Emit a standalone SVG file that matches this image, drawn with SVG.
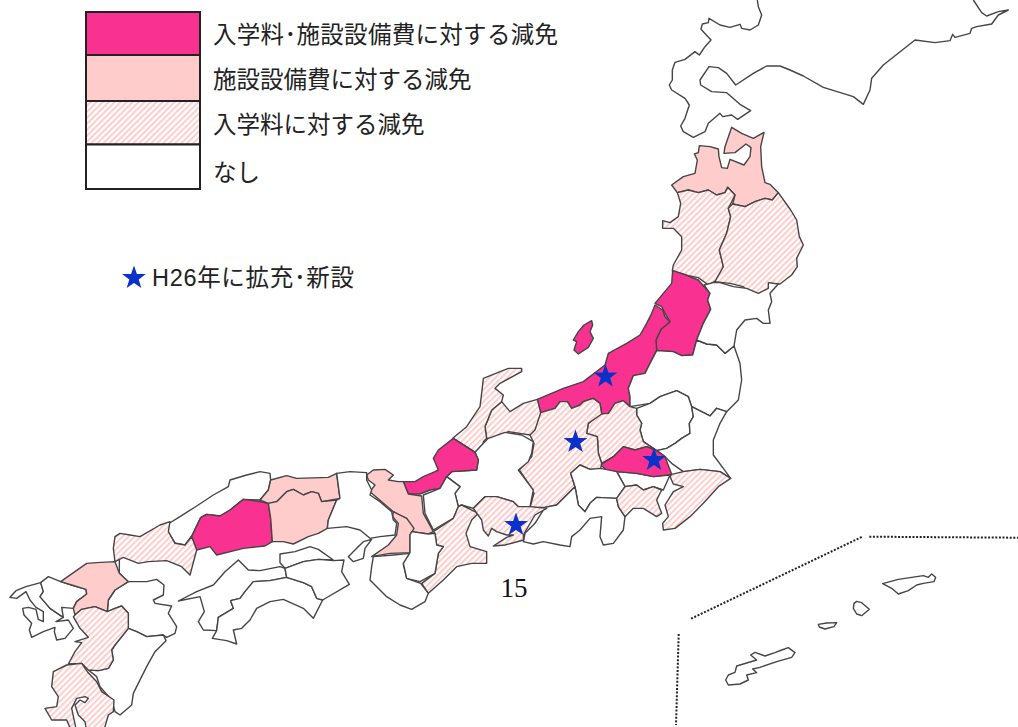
<svg xmlns="http://www.w3.org/2000/svg" width="1018" height="727" viewBox="0 0 1018 727">
<style>
.map path{stroke:#454545;stroke-width:1.4;stroke-linejoin:round;vector-effect:non-scaling-stroke}
.a{fill:#f93191}.b{fill:#ffcccc}.c{fill:url(#h)}.n{fill:#fff}
.lg{stroke:#222;stroke-width:2}
.t{font-family:"Liberation Sans","Noto Sans CJK JP",sans-serif;font-size:23.5px;fill:#222}
.star{fill:#0b32c8}
.dot{fill:none;stroke:#222;stroke-width:2;stroke-dasharray:2 1.6}
</style>
<defs>
<filter id="soft" x="0" y="0" width="1" height="1" filterUnits="objectBoundingBox"><feGaussianBlur stdDeviation=".45"/></filter>
<pattern id="h" width="12.7" height="12.7" patternUnits="userSpaceOnUse" patternTransform="rotate(45)"><rect width="12.7" height="12.7" fill="#fff"/><rect width="6" height="12.7" fill="#ffcccc"/></pattern>
<pattern id="hl" width="4.23" height="4.23" patternUnits="userSpaceOnUse" patternTransform="rotate(45)"><rect width="4.23" height="4.23" fill="#fff"/><rect width="2" height="4.23" fill="#ffcccc"/></pattern>
<path id="s" d="M0-12.5 2.9-3.9 11.9-3.9 4.7 1.5 7.3 10.1 0 5 -7.3 10.1 -4.7 1.5 -11.9-3.9 -2.9-3.9Z"/>
</defs>
<rect width="1018" height="727" fill="#fff"/>
<g id="legend">
<rect class="lg" x="86" y="12" width="114" height="43" fill="#f93191"/>
<rect class="lg" x="86" y="55" width="114" height="46" fill="#ffcccc"/>
<rect class="lg" x="86" y="101" width="114" height="43.5" fill="url(#hl)"/>
<rect class="lg" x="86" y="144.5" width="114" height="44.5" fill="#fff"/>
<text class="t" x="213" y="43" textLength="345">入学料･施設設備費に対する減免</text>
<text class="t" x="213" y="88">施設設備費に対する減免</text>
<text class="t" x="213" y="132.500">入学料に対する減免</text>
<text class="t" x="213" y="181">なし</text>
<use href="#s" class="star" x="134" y="278"/>
<text class="t" x="152" y="286" textLength="202">H26年に拡充･新設</text>
</g>
<g class="map" filter="url(#soft)">
<rect width="1018" height="727" fill="none"/>
<g transform="translate(640 0) scale(.33333)">
<g id="hokkaido"><path class="n" d="M352 0 355 20 365 45 355 75 330 90 305 85 300 73 270 82 240 75 207 55 205 68 187 72 183 88 213 120 195 140 178 165 165 155 135 178 105 187 97 210 97 240 88 255 95 270 135 295 148 315 135 355 122 378 130 395 160 412 195 395 205 370 240 340 248 350 275 345 293 358 332 332 300 313 260 278 215 275 182 255 180 240 207 200 235 203 260 220 287 255 340 220 380 198 420 198 450 210 490 228 550 262 640 290 670 313 690 270 695 235 730 195 825 120 885 128 930 122 938 103 945 112 990 100 995 85 1010 80 1055 72 1075 45 1105 30 1075 35 1040 48 1025 38 1000 0"/></g>
<g id="aomori"><path class="b" d="M275 382 255 440 252 460 285 458 318 432 333 443 330 470 312 495 270 478 262 505 245 503 237 470 235 447 210 440 178 437 175 458 163 462 172 480 165 520 130 530 95 555 112 578 145 570 175 578 205 570 230 585 255 578 263 562 285 585 278 612 315 620 345 605 375 595 397 600 415 578 390 553 375 548 365 500 362 440 372 397 340 415 305 400Z"/></g>
<g id="akita"><path class="c" d="M112 578 122 610 115 650 90 668 68 662 68 685 100 685 125 710 125 750 100 795 97 812 135 825 175 833 205 855 240 835 250 800 238 750 260 700 272 650 265 625 285 585 263 562 255 578 230 585 205 570 175 578 145 570Z"/></g>
<g id="iwate"><path class="c" d="M278 612 265 625 272 650 260 700 238 750 250 800 225 845 270 850 310 860 325 880 360 882 385 878 388 850 420 852 455 825 472 800 470 775 490 735 478 710 470 660 452 630 415 578 397 600 375 595 345 605 315 620Z"/></g>
</g>
<g transform="translate(480 260) scale(.33333)">
<g id="yamagata"><path class="a" d="M578 32 610 42 655 60 690 100 683 120 692 148 670 190 650 240 638 285 605 287 580 275 530 272 528 240 543 208 570 185 555 160 545 140 525 130 550 100 575 70Z"/></g>
<g id="niigata"><path class="a" d="M525 135 548 150 555 170 570 185 543 208 528 240 530 272 510 310 495 340 460 347 445 385 450 410 450 440 430 422 405 430 385 460 365 462 360 430 340 415 310 425 300 435 275 445 262 425 240 425 225 445 182 458 172 418 250 385 310 365 375 315 385 280 440 250 480 225 500 190 515 160Z"/></g>
<g id="sado"><path class="a" d="M335 182 312 195 295 215 280 240 290 245 282 270 295 282 325 262 340 235 330 215 338 195Z"/></g>
<g id="fukushima"><path class="n" d="M638 285 650 240 680 252 710 255 735 280 762 258 780 310 785 360 775 420 740 455 710 445 690 468 635 440 625 410 590 392 540 410 510 430 450 440 450 410 445 385 460 347 495 340 510 310 530 272 580 275 605 287Z"/></g>
<g id="miyagi"><path class="n" d="M650 240 670 190 692 148 683 120 690 100 672 75 700 68 720 68 760 80 800 85 835 100 865 85 865 68 895 72 870 100 875 125 865 150 870 190 850 190 830 175 795 180 770 210 762 258 735 280 710 255 680 252Z"/></g>
<g id="tochigi"><path class="n" d="M470 445 510 430 540 410 590 392 625 410 635 440 640 470 628 490 630 520 605 535 585 550 560 565 530 572 490 545 480 510 485 490 470 465Z"/></g>
<g id="ibaraki"><path class="n" d="M635 440 690 468 710 445 740 455 720 490 700 540 700 585 730 625 752 655 720 635 660 628 610 635 575 610 555 590 530 572 560 565 585 550 605 535 630 520 628 490 640 470Z"/></g>
<g id="gunma"><path class="c" d="M450 440 470 445 470 465 485 490 480 510 490 545 530 572 500 560 465 570 430 560 400 590 365 610 355 580 352 530 320 520 325 490 360 462 385 460 405 430 430 422Z"/></g>
<g id="tokyo"><path class="n" d="M410 635 470 640 520 650 570 645 550 690 520 680 490 690 470 675 435 680Z"/></g>
<g id="saitama"><path class="a" d="M362 615 400 590 430 560 465 570 500 560 530 572 555 590 575 643 520 650 470 640 410 635 380 630Z"/></g>
<g id="nagano"><path class="c" d="M182 458 225 445 240 425 262 425 275 445 300 435 310 425 340 415 360 430 365 462 325 490 320 520 352 530 355 580 365 610 362 625 330 628 300 615 272 640 285 680 230 735 195 742 150 742 162 700 145 670 118 630 155 590 162 550 150 525Z"/></g>
<g id="toyama"><path class="c" d="M65 425 90 455 130 430 172 418 182 458 165 510 150 525 120 520 85 515 50 535 20 535 15 500 35 450Z"/></g>
<g id="ishikawa"><path class="c" d="M125 325 85 325 10 355 5 400 0 440 -40 500 -81 534 -15 576 10 560 10 545 20 535 15 500 35 450 65 425 70 405 45 385 60 370 125 335Z"/></g>
<g id="yamanashi"><path class="n" d="M272 640 300 615 330 628 362 625 410 635 435 680 410 715 350 712 330 730 315 755 295 735 285 680Z"/></g>
<g id="shizuoka"><path class="n" d="M195 742 230 735 285 680 295 735 315 755 330 730 350 712 410 715 415 740 435 770 430 810 400 850 370 855 360 830 365 770 330 775 300 810 275 830 270 860 240 855 190 845 160 852 130 845 135 820 165 790Z"/></g>
<g id="kanagawa"><path class="c" d="M410 715 435 680 470 675 490 690 520 680 545 690 530 720 545 760 530 770 490 745 460 745 435 770 415 740Z"/></g>
<g id="chiba"><path class="c" d="M575 643 610 635 660 628 720 635 752 655 715 680 670 730 630 770 585 805 550 810 548 790 565 770 555 735 580 695 610 680 580 672 570 650Z"/></g>
</g>
<g transform="translate(340 420) scale(.33333)">
<g id="gifu"><path class="n" d="M405 97 430 70 445 55 495 37 545 45 580 65 575 100 565 125 535 150 580 210 570 260 535 260 520 245 470 230 435 230 400 265 365 255 355 260 345 220 360 200 320 170 335 155 410 150 415 120Z"/></g>
<g id="fukui"><path class="a" d="M340 55 405 97 415 120 410 150 335 155 320 170 300 205 270 210 240 222 205 222 190 185 225 185 250 170 285 155 295 150 280 115 295 90Z"/></g>
<g id="shiga"><path class="n" d="M320 170 360 200 345 220 355 260 340 295 305 315 280 330 255 280 250 225 300 205Z"/></g>
<g id="kyoto"><path class="b" d="M80 165 100 150 135 148 160 165 145 180 175 185 190 185 205 222 245 228 250 280 280 335 265 342 215 335 220 325 200 295 175 285 160 275 125 245 90 215 105 195 85 180Z"/></g>
<g id="osaka"><path class="b" d="M160 275 200 295 222 325 210 345 210 398 150 400 95 410 145 375 170 345 175 310 158 290Z"/></g>
<g id="mie"><path class="c" d="M280 335 340 295 355 260 365 255 415 280 395 300 378 340 390 380 440 395 440 430 395 430 350 440 310 480 265 520 245 490 285 460 295 400 310 380 290 375 285 340Z"/></g>
<g id="aichi"><path class="c" d="M400 265 435 230 470 230 520 245 535 260 570 260 620 265 585 285 550 345 551 360 495 375 460 378 500 352 520 345 500 345 470 335 455 325 445 348 430 330 425 300Z"/></g>
</g>
<g transform="translate(180 420) scale(.33333)">
<g id="shimane"><path class="n" d="M0 290 50 258 100 225 145 200 150 180 200 165 240 155 270 160 272 180 265 210 240 240 190 238 150 270 120 288 80 283 62 293 37 345 15 375 -15 369 -36 336 -36 312Z"/></g>
<g id="hiroshima"><path class="a" d="M37 345 62 293 80 283 120 288 150 270 190 238 230 243 265 250 272 295 277 365 255 378 190 385 110 405 90 380 50 390 35 350Z"/></g>
<g id="tottori"><path class="b" d="M272 180 320 167 350 175 445 172 470 160 480 235 425 245 415 220 395 215 370 225 340 208 320 215 290 245 265 250 240 240 265 210Z"/></g>
<g id="okayama"><path class="b" d="M265 250 290 245 320 215 340 208 370 225 395 215 415 220 425 245 470 240 445 300 442 325 415 340 385 350 340 372 310 365 277 365 272 295Z"/></g>
<g id="hyogo"><path class="n" d="M470 160 510 155 560 158 560 180 575 210 570 225 600 245 635 275 640 300 650 310 645 345 600 350 570 355 540 330 500 320 442 325 445 300 470 240 480 235Z"/></g>
<g id="awaji"><path class="n" d="M575 358 550 365 530 385 505 410 520 425 550 415 555 385Z"/></g>
<g id="wakayama"><path class="n" d="M580 410 575 440 570 480 600 510 620 530 660 555 695 568 735 545 745 520 722 490 680 475 670 432 690 400 640 405Z"/></g>
</g>
<g transform="translate(340 420) scale(.33333)">
<g id="nara"><path class="n" d="M215 335 265 342 285 340 290 375 310 380 295 400 285 460 240 485 200 475 190 430 210 398 210 345Z"/></g>
</g>
<g transform="translate(170 540) scale(.33333)">
<g id="ehime"><path class="n" d="M25 183 80 155 130 135 165 95 205 60 235 90 270 92 330 80 345 85 350 112 300 122 250 125 225 155 210 175 182 182 190 205 145 232 140 272 100 270 85 245 103 215 90 170Z"/></g>
<g id="kochi"><path class="n" d="M350 112 400 128 425 140 440 175 458 180 430 235 400 205 340 178 300 185 260 205 240 240 215 265 190 270 200 312 170 302 127 295 140 272 145 232 190 205 182 182 210 175 225 155 250 125 300 122Z"/></g>
<g id="kagawa"><path class="n" d="M330 42 375 35 420 20 445 28 490 60 445 58 400 65 345 85 330 68Z"/></g>
<g id="tokushima"><path class="n" d="M345 85 400 65 445 58 490 62 522 60 515 95 538 133 458 180 440 175 425 140 400 128 350 112Z"/></g>
</g>
<g transform="translate(0 520) scale(.33333)">
<g id="yamaguchi"><path class="c" d="M345 50 360 40 390 45 420 50 480 15 510 5 505 35 525 70 555 75 575 50 590 90 570 165 545 140 500 122 445 125 415 130 370 112 345 125 340 85Z"/></g>
<g id="nagasaki"><path class="n" d="M30 232 48 212 78 200 122 188 130 215 120 230 150 265 190 292 168 305 205 300 220 325 195 355 170 360 163 335 165 322 130 335 95 352 88 330 95 310 72 285 68 265 85 262 108 268 115 298 130 305 130 275 108 262 90 240 78 215 50 235Z"/></g>
<g id="saga"><path class="n" d="M122 188 145 170 182 185 215 195 258 208 260 222 230 245 220 265 185 262 190 292 150 265 120 230 130 215Z"/></g>
<g id="oita"><path class="n" d="M358 118 358 160 385 185 440 185 470 178 492 195 490 225 460 240 465 250 515 258 505 280 530 320 525 340 500 352 490 345 440 350 410 335 385 325 385 280 365 258 345 265 322 275 325 240 345 210 385 185 358 160Z"/></g>
<g id="fukuoka"><path class="b" d="M182 185 260 130 290 128 345 125 358 160 385 185 345 210 325 240 322 275 285 260 245 268 225 285 220 265 230 245 260 222 258 208 215 195Z"/></g>
<g id="miyazaki"><path class="n" d="M385 325 410 335 440 350 490 345 498 362 465 395 440 440 410 500 400 520 395 555 360 585 345 575 335 540 300 500 290 470 265 450 295 452 325 445 340 420 335 390 345 375Z"/></g>
<g id="kumamoto"><path class="c" d="M225 285 245 268 285 260 322 275 345 265 365 258 385 280 385 325 345 375 335 390 340 420 325 445 295 452 265 450 245 430 205 432 225 395 245 368 225 365 265 352 240 325 220 290Z"/></g>
</g>
<g transform="translate(30 640) scale(.33333)">
<g id="kagoshima"><path class="c" d="M70 95 110 75 155 70 172 95 200 125 215 155 252 180 250 215 235 225 225 260 215 275 170 275 165 245 145 225 135 195 150 180 165 188 175 175 165 170 140 175 125 205 140 275 125 275 110 240 65 240 45 205 80 200 85 170 65 140Z"/></g>
</g>
<g transform="translate(660 520) scale(.33333)">
<g id="okinawa"><path class="n" d="M385 383 405 398 395 412 350 425 300 442 278 447 290 458 260 465 265 480 240 492 205 495 197 480 205 465 225 457 230 438 290 420 272 405 285 397 315 408 345 398 365 390Z"/></g>
<g id="isl2"><path class="n" d="M475 313 500 309 530 308 522 320 495 327 478 321Z"/></g>
<g id="isl3"><path class="n" d="M590 244 605 248 628 268 605 287 590 282 580 265 582 250Z"/></g>
<g id="isl4"><path class="n" d="M668 191 715 178 790 167 805 172 815 162 827 172 822 185 790 190 770 195 745 212 715 222 695 205Z"/></g>
</g>
</g>
<g id="inset-lines">
<path class="dot" d="M861.700 537 691 618.700"/>
<path class="dot" d="M869.300 536.700 1018 537.700"/>
<path class="dot" d="M678.700 634 676 725"/>
</g>
<g id="stars">
<use href="#s" class="star" x="605.500" y="376.500"/>
<use href="#s" class="star" x="575.500" y="442"/>
<use href="#s" class="star" x="654" y="460"/>
<use href="#s" class="star" x="516" y="525"/>
</g>
<text x="500.500" y="597" font-family="Liberation Serif,serif" font-size="27" fill="#111">15</text>
</svg>
